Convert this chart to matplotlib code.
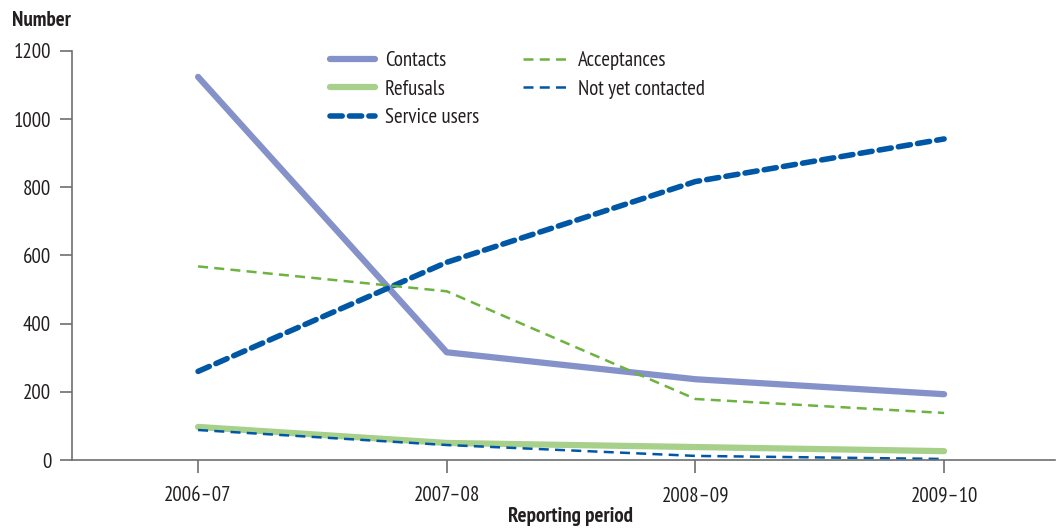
import matplotlib
matplotlib.use('Agg')
import matplotlib.pyplot as plt
from matplotlib import font_manager

# 数据
periods = ['2006–07', '2007–08', '2008–09', '2009–10']
contacts = [1124, 316, 237, 193]
refusals = [97, 50, 38, 26]
service_users = [260, 580, 817, 942]
acceptances = [568, 495, 179, 138]
not_yet_contacted = [88, 44, 12, 3]

# 选一个窄体字体
names = set(f.name for f in font_manager.fontManager.ttflist)
candidates = ['Myriad Pro Condensed', 'PT Sans Narrow', 'Roboto Condensed', 'Fira Sans Condensed',
              'Open Sans Condensed', 'Liberation Sans Narrow', 'Archivo Narrow', 'Asap Condensed']
font = next((c for c in candidates if c in names), 'DejaVu Sans')
plt.rcParams['font.family'] = [font, 'DejaVu Sans']

fig = plt.figure(figsize=(10.56, 5.31), dpi=100)
ax = fig.add_axes([72 / 1056, (531 - 460) / 531, (1055 - 72) / 1056, 409 / 531])

x = range(len(periods))
ax.plot(x, contacts, color='#8591c9', lw=4.5, solid_capstyle='round', label='Contacts')
ax.plot(x, refusals, color='#a7d08b', lw=4.5, solid_capstyle='round', label='Refusals')
ax.plot(x, service_users, color='#0057a5', lw=4, ls=(0, (2.2, 1.3)), dash_capstyle='round', label='Service users')
ax.plot(x, acceptances, color='#6cb33f', lw=1.8, ls=(0, (4, 2.5)), label='Acceptances')
ax.plot(x, not_yet_contacted, color='#0057a5', lw=1.8, ls=(0, (4, 2.5)), label='Not yet contacted')

ax.set_xlim(-0.507, 3.446)
ax.set_ylim(0, 1200)
ax.set_yticks(range(0, 1201, 200))
ax.set_xticks(list(x))
ax.set_xticklabels(periods)

for s in ['top', 'right']:
    ax.spines[s].set_visible(False)
for s in ['left', 'bottom']:
    ax.spines[s].set_color('#6d6e71')
    ax.spines[s].set_linewidth(1.2)
ax.tick_params(axis='both', colors='#6d6e71', length=9, width=1.2, labelcolor='#231f20', labelsize=15)
ax.tick_params(axis='x', pad=10)
ax.tick_params(axis='y', pad=6)

fig.text(12 / 1056, 1 - 20 / 531, 'Number', fontsize=15, fontweight='bold', color='#231f20', va='center', ha='left')
fig.text(570 / 1056, 1 - 517 / 531, 'Reporting period', fontsize=15, fontweight='bold', color='#231f20', va='center', ha='center')

leg = ax.legend(ncol=2, frameon=False, loc='upper left', bbox_to_anchor=((311 - 72) / 983, 1.045),
                fontsize=15, handlelength=2.15, handletextpad=0.5, columnspacing=2.1, labelspacing=0.45)
for t in leg.get_texts():
    t.set_color('#231f20')

plt.savefig('out.png', dpi=100)
plt.close()
